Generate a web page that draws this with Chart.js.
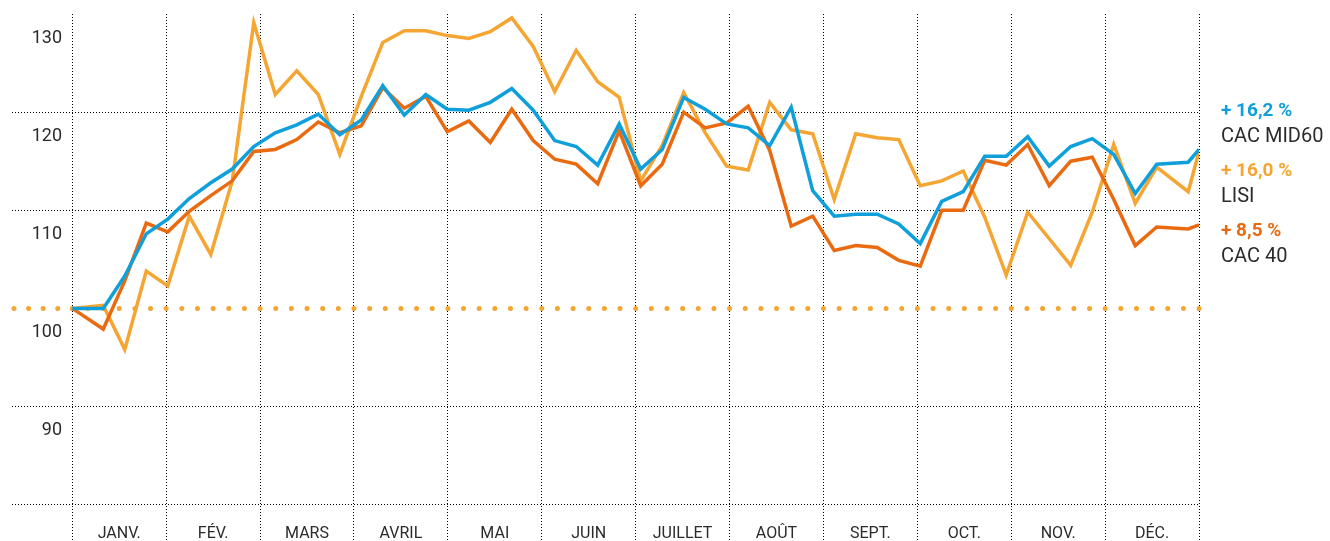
<!DOCTYPE html>
<html lang="fr">
<head>
<meta charset="utf-8">
<title>LISI, CAC MID60, CAC 40</title>
<script src="https://cdn.jsdelivr.net/npm/chart.js@4/dist/chart.umd.min.js"></script>
<style>
    html, body { margin: 0; padding: 0; background: #ffffff; }
    #wrap { position: relative; width: 1330px; height: 541px; }
</style>
</head>
<body>
<div id="wrap"><canvas id="chart"></canvas></div>
<script>
// Month labels (x axis)
const months = ['JANV.', 'FÉV.', 'MARS', 'AVRIL', 'MAI', 'JUIN', 'JUILLET', 'AOÛT', 'SEPT.', 'OCT.', 'NOV.', 'DÉC.'];

// Position of each weekly close, in months since 1 January
const weekPos = [0, 0.330, 0.559, 0.788, 1.017, 1.246, 1.475, 1.704, 1.933, 2.162,
    2.391, 2.620, 2.849, 3.078, 3.307, 3.536, 3.765, 3.994, 4.223, 4.452,
    4.681, 4.909, 5.138, 5.367, 5.596, 5.825, 6.054, 6.283, 6.512, 6.741,
    6.970, 7.199, 7.428, 7.657, 7.886, 8.115, 8.344, 8.573, 8.802, 9.031,
    9.260, 9.489, 9.718, 9.947, 10.176, 10.405, 10.634, 10.863, 11.092, 11.321,
    11.550, 11.885, 12.0];

// Base 100 index values
const cacMid60 = [100, 100, 103.3, 107.6, 109.1, 111.2, 112.8, 114.2, 116.5, 117.9,
    118.7, 119.8, 117.7, 119.2, 122.7, 119.7, 121.8, 120.3, 120.2, 121.0,
    122.4, 120.2, 117.1, 116.5, 114.6, 118.8, 114.2, 116.2, 121.5, 120.3,
    118.8, 118.4, 116.6, 120.5, 112.0, 109.4, 109.6, 109.6, 108.6, 106.6,
    110.9, 111.9, 115.5, 115.5, 117.5, 114.5, 116.5, 117.3, 115.7, 111.7,
    114.7, 114.9, 116.2];
const lisi = [100, 100.3, 95.8, 103.8, 102.3, 109.4, 105.5, 113.0, 129.1, 121.8,
    124.2, 121.8, 115.7, 121.6, 127.1, 128.3, 128.3, 127.8, 127.5, 128.2,
    129.6, 126.7, 122.1, 126.3, 123.1, 121.5, 113.0, 116.6, 122.0, 117.9,
    114.5, 114.1, 121.0, 118.2, 117.8, 111.1, 117.8, 117.4, 117.2, 112.5,
    113.0, 114.0, 109.3, 103.4, 109.8, 107.1, 104.4, 109.8, 116.7, 110.7,
    114.4, 111.9, 116.0];
const cac40 = [100, 97.9, 102.8, 108.7, 107.8, 109.9, 111.5, 113.0, 116.0, 116.2,
    117.2, 119.0, 117.9, 118.6, 122.5, 120.4, 121.6, 118.0, 119.1, 116.9,
    120.3, 117.1, 115.2, 114.7, 112.7, 118.1, 112.5, 114.7, 120.0, 118.4,
    118.9, 120.6, 116.1, 108.4, 109.4, 105.9, 106.4, 106.2, 104.9, 104.3,
    110.0, 110.0, 115.1, 114.6, 116.7, 112.5, 115.0, 115.4, 111.1, 106.4,
    108.3, 108.1, 108.5];

// Y axis
const yTickLabels = [90, 100, 110, 120, 130];
const yGridValues = [80, 90, 110, 120];
const baseValue = 100;

// Legend on the right
const legendChanges = ['+ 16,2 %', '+ 16,0 %', '+ 8,5 %'];
const legendNames = ['CAC MID60', 'LISI', 'CAC 40'];

const BLUE = '#0f9fda';
const LIGHT_ORANGE = '#f5a532';
const DARK_ORANGE = '#ea6a10';
const legendColors = [BLUE, LIGHT_ORANGE, DARK_ORANGE];
const TEXT = '#2b2b2b';

function toPoints(values) {
    return values.map((v, i) => ({ x: weekPos[i], y: v }));
}

// Draws the y labels (sitting below their value), month names and legend
const textPlugin = {
    id: 'textPlugin',
    afterDraw(chart) {
        const ctx = chart.ctx;
        const x = chart.scales.x;
        const y = chart.scales.y;
        ctx.save();
        ctx.fillStyle = TEXT;

        ctx.font = '18px Roboto';
        ctx.textAlign = 'right';
        ctx.textBaseline = 'middle';
        yTickLabels.forEach(v => {
            ctx.fillText(String(v), 62, y.getPixelForValue(v) + 24);
        });

        ctx.font = '16px Roboto';
        ctx.textAlign = 'center';
        months.forEach((m, i) => {
            ctx.fillText(m, x.getPixelForValue(i + 0.5), 534);
        });

        ctx.textAlign = 'left';
        ctx.textBaseline = 'alphabetic';
        legendChanges.forEach((c, i) => {
            const top = 116 + i * 60;
            ctx.fillStyle = legendColors[i];
            ctx.font = 'bold 19px Roboto';
            ctx.fillText(c, 1221, top);
            ctx.fillStyle = TEXT;
            ctx.font = '20px Roboto';
            ctx.fillText(legendNames[i], 1221, top + 26);
        });
        ctx.restore();
    }
};

const ctx = document.getElementById('chart').getContext('2d');

// dotted base-100 line, drawn as round dots
function baseLine(fromX, toX, gap) {
    return {
        label: 'Base 100',
        data: [{ x: fromX, y: baseValue }, { x: toX, y: baseValue }],
        borderColor: LIGHT_ORANGE,
        borderWidth: 5,
        borderDash: [0, gap],
        borderCapStyle: 'round',
        pointRadius: 0,
        clip: false,
        order: 3
    };
}

new Chart(ctx, {
    type: 'line',
    data: {
        datasets: [
            {
                label: 'CAC MID60',
                data: toPoints(cacMid60),
                borderColor: BLUE,
                borderWidth: 3.5,
                pointRadius: 0,
                tension: 0,
                order: 0
            },
            {
                label: 'CAC 40',
                data: toPoints(cac40),
                borderColor: DARK_ORANGE,
                borderWidth: 3.5,
                pointRadius: 0,
                tension: 0,
                order: 1
            },
            {
                label: 'LISI',
                data: toPoints(lisi),
                borderColor: LIGHT_ORANGE,
                borderWidth: 3.5,
                pointRadius: 0,
                tension: 0,
                order: 2
            },
            baseLine(-0.621, 0, 14.6),
            baseLine(0, 12.001, 93.9 / 6)
        ]
    },
    options: {
        responsive: true,
        maintainAspectRatio: false,
        animation: false,
        layout: { padding: { left: 12, right: 131, top: 14, bottom: 0 } },
        plugins: {
            legend: { display: false },
            tooltip: { enabled: false }
        },
        scales: {
            x: {
                type: 'linear',
                min: -0.642,
                max: 12,
                afterBuildTicks: axis => {
                    axis.ticks = months.map((m, i) => ({ value: i })).concat([{ value: 12 }]);
                },
                grid: { color: '#000', lineWidth: 1, drawTicks: false },
                border: { display: false, dash: [1, 2] },
                ticks: { display: false }
            },
            y: {
                min: 76.3,
                max: 130,
                afterBuildTicks: axis => {
                    axis.ticks = yGridValues.map(v => ({ value: v }));
                },
                grid: { color: '#000', lineWidth: 1, drawTicks: false },
                border: { display: false, dash: [1, 2] },
                ticks: { display: false }
            }
        }
    },
    plugins: [textPlugin]
});
</script>
</body>
</html>
